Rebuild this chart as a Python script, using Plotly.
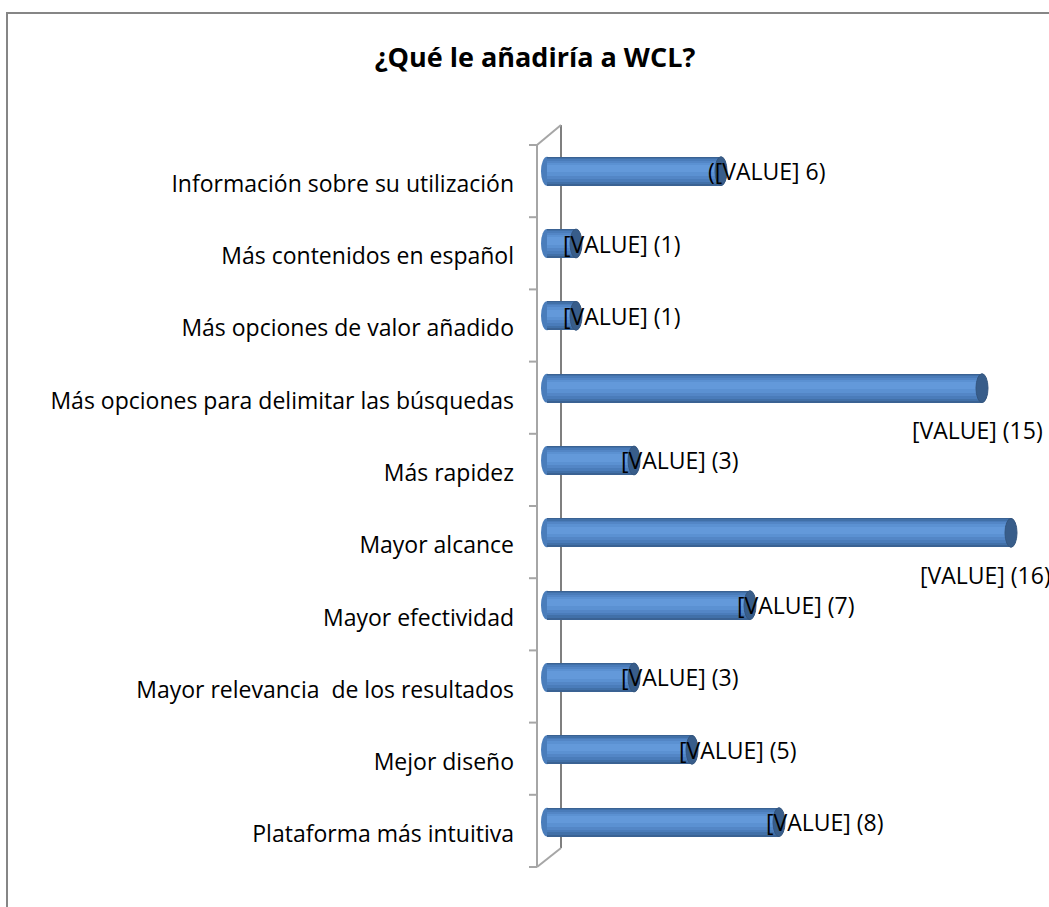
import plotly.graph_objects as go

# ---- data ----
categories = [
    "Información sobre su utilización",
    "Más contenidos en español",
    "Más opciones de valor añadido",
    "Más opciones para delimitar las búsquedas",
    "Más rapidez",
    "Mayor alcance",
    "Mayor efectividad",
    "Mayor relevancia  de los resultados",
    "Mejor diseño",
    "Plataforma más intuitiva",
]
values = [6, 1, 1, 15, 3, 16, 7, 3, 5, 8]
value_labels = [
    "([VALUE] 6)", "[VALUE] (1)", "[VALUE] (1)", "[VALUE] (15)", "[VALUE] (3)",
    "[VALUE] (16)", "[VALUE] (7)", "[VALUE] (3)", "[VALUE] (5)", "[VALUE] (8)",
]
title_text = "¿Qué le añadiría a WCL?"

# ---- layout geometry ----
W, H = 1049, 907
L, R, T, B = 515, 0, 110, 27
PX0, PXU = 547, 29.0          # pixel of value 0, pixels per unit
PY0, PYU = 135, 72.33         # top of first band, pixels per category
FONT = "'Open Sans', Lato, sans-serif"

xr = [(L - PX0) / PXU, (W - R - PX0) / PXU]
yr = [(H - B - PY0) / PYU - 0.5, (T - PY0) / PYU - 0.5]

def pxx(p):
    return (p - L) / (W - L - R)

def pxy(p):
    return 1 - (p - T) / (H - T - B)

idx = list(range(len(categories)))

fig = go.Figure()
layers = [
    (0.40, 0.0, "#3a6293"),
    (0.36, -0.005, "#4170a8"),
    (0.31, -0.012, "#4a7cba"),
    (0.25, -0.02, "#5386c6"),
    (0.18, -0.028, "#5b91d2"),
    (0.10, -0.035, "#6399da"),
]
for w, off, col in layers:
    fig.add_trace(go.Bar(
        x=values, y=idx, orientation="h", width=w,
        offset=-w / 2 + off, marker=dict(color=col, line=dict(width=0)),
        hoverinfo="skip", showlegend=False,
    ))

shapes = []
# outer chart border
shapes.append(dict(type="line", xref="paper", yref="paper", x0=pxx(7), x1=pxx(7), y0=pxy(13), y1=pxy(907),
                   line=dict(color="#868686", width=2)))
shapes.append(dict(type="line", xref="paper", yref="paper", x0=pxx(6), x1=pxx(1049), y0=pxy(13), y1=pxy(13),
                   line=dict(color="#868686", width=2)))
# 3D axis wall
fx, bx = 537, 561
ftop, fbot, btop, bbot = 145, 867, 125, 848
shapes.append(dict(type="line", xref="paper", yref="paper", x0=pxx(bx), x1=pxx(bx), y0=pxy(btop), y1=pxy(bbot),
                   line=dict(color="#7f7f7f", width=2), layer="below"))
shapes.append(dict(type="line", xref="paper", yref="paper", x0=pxx(fx), x1=pxx(fx), y0=pxy(ftop), y1=pxy(fbot),
                   line=dict(color="#a6a6a6", width=2), layer="below"))
shapes.append(dict(type="line", xref="paper", yref="paper", x0=pxx(fx), x1=pxx(bx), y0=pxy(ftop), y1=pxy(btop),
                   line=dict(color="#a6a6a6", width=2), layer="below"))
shapes.append(dict(type="line", xref="paper", yref="paper", x0=pxx(fx), x1=pxx(bx), y0=pxy(fbot), y1=pxy(bbot),
                   line=dict(color="#a6a6a6", width=2), layer="below"))
for k in range(len(categories) + 1):
    ty = ftop + k * (fbot - ftop) / len(categories)
    shapes.append(dict(type="line", xref="paper", yref="paper", x0=pxx(fx - 8), x1=pxx(fx), y0=pxy(ty), y1=pxy(ty),
                       line=dict(color="#a6a6a6", width=2), layer="below"))

# rounded cylinder ends
ew = 6 / PXU
for i, v in zip(idx, values):
    shapes.append(dict(type="circle", xref="x", yref="y", x0=-ew, x1=ew, y0=i - 0.2, y1=i + 0.2,
                       fillcolor="#4a7dbb", line=dict(width=0), layer="below"))
    shapes.append(dict(type="circle", xref="x", yref="y", x0=v - ew, x1=v + ew, y0=i - 0.2, y1=i + 0.2,
                       fillcolor="#385d8a", line=dict(color="#34567f", width=1), layer="above"))

annotations = []
for i, v, lab in zip(idx, values, value_labels):
    if v > 10:
        bar_px = PX0 + v * PXU
        right_px = min(bar_px + 63, W + 4)
        annotations.append(dict(x=v, y=i, xref="x", yref="y", text=lab, showarrow=False,
                                xanchor="right", yanchor="middle", xshift=right_px - bar_px, yshift=-42,
                                font=dict(family=FONT, size=23, color="#000")))
    else:
        annotations.append(dict(x=v, y=i, xref="x", yref="y", text=lab, showarrow=False,
                                xanchor="left", yanchor="middle", xshift=-15, yshift=0,
                                font=dict(family=FONT, size=23, color="#000")))

fig.update_layout(
    width=W, height=H,
    margin=dict(l=L, r=R, t=T, b=B, pad=0),
    paper_bgcolor="white", plot_bgcolor="white",
    barmode="overlay", bargap=0,
    title=dict(text="<b>" + title_text + "</b>", x=535 / W, xanchor="center",
               y=1 - 58 / H, yanchor="middle", font=dict(family=FONT, size=27, color="#000")),
    xaxis=dict(range=xr, visible=False, fixedrange=True),
    yaxis=dict(range=yr, tickmode="array", tickvals=[i + 0.17 for i in idx], ticktext=categories,
               showgrid=False, zeroline=False, showline=False, ticks="", fixedrange=True,
               tickfont=dict(family=FONT, size=23, color="#000")),
    shapes=shapes, annotations=annotations,
    showlegend=False,
)

fig.write_html("out.html", config={"displayModeBar": False},
               post_script="document.body.style.margin='0';document.body.style.overflow='hidden';")
